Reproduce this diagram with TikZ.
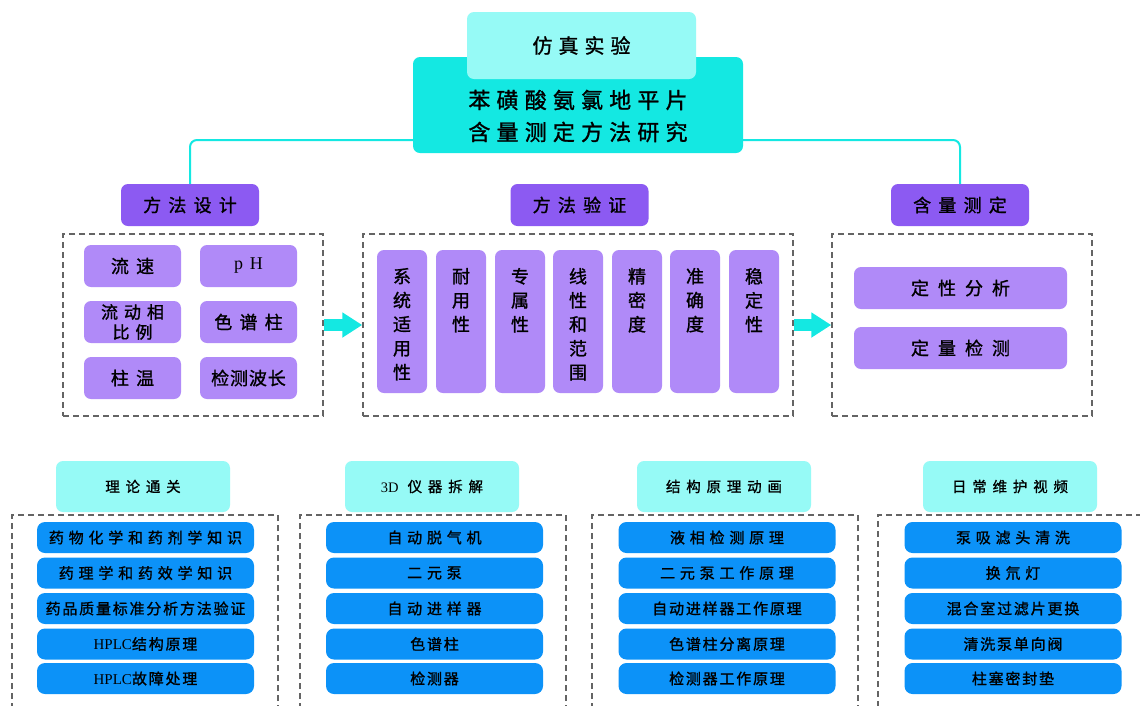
\documentclass[tikz,border=0pt]{standalone}
\usepackage{fontspec}
\setmainfont{Noto Sans CJK SC}[FakeBold=1.2]
\newfontfamily\lat{Liberation Serif}
\usetikzlibrary{arrows.meta}
\definecolor{cyanL}{RGB}{150,250,246}
\definecolor{turq}{RGB}{20,232,226}
\definecolor{purp}{RGB}{140,90,242}
\definecolor{lpurp}{RGB}{176,138,248}
\definecolor{itemblue}{RGB}{12,146,248}
\definecolor{dashgray}{RGB}{100,100,100}
\newcommand\myfs[3]{\fontsize{#1}{#2}\selectfont\addfontfeatures{LetterSpace=#3}}
\tikzset{
  box/.style={rounded corners=7pt, inner sep=0pt, align=center, text=black},
  simbox/.style={box, fill=cyanL, minimum width=229pt, minimum height=67pt, font=\myfs{20}{24}{30}},
  mainbox/.style={box, fill=turq, minimum width=330pt, minimum height=96pt},
  maintext/.style={inner sep=0pt, align=center, font=\myfs{22}{32}{28}},
  hdr/.style={box, fill=purp, minimum width=138pt, minimum height=42pt, font=\myfs{18}{22}{40}},
  dashbox/.style={draw=dashgray, dashed, dash pattern=on 6pt off 4pt, line width=1.5pt, inner sep=0pt},
  small/.style={box, fill=lpurp, minimum width=97pt, minimum height=42pt, font=\myfs{18}{21}{40}},
  vbox/.style={box, fill=lpurp, minimum width=50pt, minimum height=143pt},
  vtext/.style={inner sep=0pt, align=center, anchor=north, font=\myfs{18}{24}{0}},
  wide/.style={box, fill=lpurp, minimum width=213pt, minimum height=42pt, font=\myfs{18}{22}{50}},
  conn/.style={draw=turq, line width=2pt, rounded corners=7pt},
  bigarrow/.style={draw=turq, line width=12pt, -{Triangle[width=24pt,length=20pt]}},
  bhdr/.style={box, fill=cyanL, minimum width=174pt, minimum height=51pt, font=\myfs{14.5}{18}{40}},
  item/.style={box, fill=itemblue, minimum width=217pt, minimum height=31pt, rounded corners=8pt, font=\myfs{15}{17}{32}},
  tight/.style={font=\myfs{15}{17}{12}}
}
\begin{document}
\begin{tikzpicture}[x=1pt, y=-1pt]
\path[use as bounding box, clip] (0,0) rectangle (1140,705);
\fill[white] (0,0) rectangle (1140,705);

% second-level headers
\node[hdr] (des) at (190,205) {方法设计};
\node[hdr] (ver) at (579.5,205) {方法验证};
\node[hdr] (qty) at (960,205) {含量测定};

% connector from title
\coordinate (hl) at (0,140);
\draw[conn] (des.north) |- (qty.north |- hl) -- (qty.north);

% title boxes
\node[mainbox] (main) at (578,105) {};
\node[maintext] (maint) at (578,116) {苯磺酸氨氯地平片\\含量测定方法研究};
\node[simbox] (sim) at (581.5,45.5) {仿真实验};

% dashed groups
\node[dashbox, minimum width=260pt, minimum height=182pt] (dl) at (193,325) {};
\node[dashbox, minimum width=430pt, minimum height=182pt] (dm) at (578,325) {};
\node[dashbox, minimum width=260pt, minimum height=182pt] (dr) at (962,325) {};

% left items
\node[small] (s1) at (132.5,266) {流速};
\node[small] (s2) at (248.5,266) {{\lat p\hspace{7pt}H}};
\node[small, font=\myfs{17}{20}{35}] (s3) at (132.5,322) {流动相\\比例};
\node[small] (s4) at (248.5,322) {色谱柱};
\node[small] (s5) at (132.5,378) {柱温};
\node[small, font=\myfs{18}{21}{5}] (s6) at (248.5,378) {检测波长};

% middle items
\node[vbox] (v1) at (402,321.5) {};
\node[vbox] (v2) at (461,321.5) {};
\node[vbox] (v3) at (520,321.5) {};
\node[vbox] (v4) at (578,321.5) {};
\node[vbox] (v5) at (637,321.5) {};
\node[vbox] (v6) at (695,321.5) {};
\node[vbox] (v7) at (754,321.5) {};
\node[vtext] (t1) at ([yshift=-18pt]v1.north) {系\\统\\适\\用\\性};
\node[vtext] (t2) at ([yshift=-18pt]v2.north) {耐\\用\\性};
\node[vtext] (t3) at ([yshift=-18pt]v3.north) {专\\属\\性};
\node[vtext] (t4) at ([yshift=-18pt]v4.north) {线\\性\\和\\范\\围};
\node[vtext] (t5) at ([yshift=-18pt]v5.north) {精\\密\\度};
\node[vtext] (t6) at ([yshift=-18pt]v6.north) {准\\确\\度};
\node[vtext] (t7) at ([yshift=-18pt]v7.north) {稳\\定\\性};

% right items
\node[wide] (r1) at (960.5,288) {定性分析};
\node[wide] (r2) at (960.5,348) {定量检测};

% arrows
\draw[bigarrow] (dl.east) -- (dm.west);
\draw[bigarrow] (dm.east) -- (dr.west);

% bottom panels
\node[bhdr] (h1) at (143,486.5) {理论通关};
\node[bhdr] (h2) at (432,486.5) {{\lat 3D}\hspace{9pt}仪器拆解};
\node[bhdr] (h3) at (724,486.5) {结构原理动画};
\node[bhdr] (h4) at (1010,486.5) {日常维护视频};

\node[dashbox, minimum width=266pt, minimum height=210pt] (d1) at (145,620) {};
\node[dashbox, minimum width=266pt, minimum height=210pt] (d2) at (433,620) {};
\node[dashbox, minimum width=266pt, minimum height=210pt] (d3) at (725,620) {};
\node[dashbox, minimum width=282pt, minimum height=210pt] (d4) at (1019,620) {};

\node[item] (a1) at (145.5,537.5) {药物化学和药剂学知识};
\node[item] (a2) at (145.5,573) {药理学和药效学知识};
\node[item, tight] (a3) at (145.5,608.5) {药品质量标准分析方法验证};
\node[item, tight] (a4) at (145.5,644) {{\lat HPLC}结构原理};
\node[item, tight] (a5) at (145.5,678.5) {{\lat HPLC}故障处理};

\node[item] (b1) at (434.5,537.5) {自动脱气机};
\node[item] (b2) at (434.5,573) {二元泵};
\node[item] (b3) at (434.5,608.5) {自动进样器};
\node[item, tight] (b4) at (434.5,644) {色谱柱};
\node[item, tight] (b5) at (434.5,678.5) {检测器};

\node[item] (c1) at (727,537.5) {液相检测原理};
\node[item] (c2) at (727,573) {二元泵工作原理};
\node[item, tight] (c3) at (727,608.5) {自动进样器工作原理};
\node[item, tight] (c4) at (727,644) {色谱柱分离原理};
\node[item, tight] (c5) at (727,678.5) {检测器工作原理};

\node[item] (e1) at (1013,537.5) {泵吸滤头清洗};
\node[item] (e2) at (1013,573) {换氘灯};
\node[item, tight] (e3) at (1013,608.5) {混合室过滤片更换};
\node[item, tight] (e4) at (1013,644) {清洗泵单向阀};
\node[item, tight] (e5) at (1013,678.5) {柱塞密封垫};
\end{tikzpicture}
\end{document}
